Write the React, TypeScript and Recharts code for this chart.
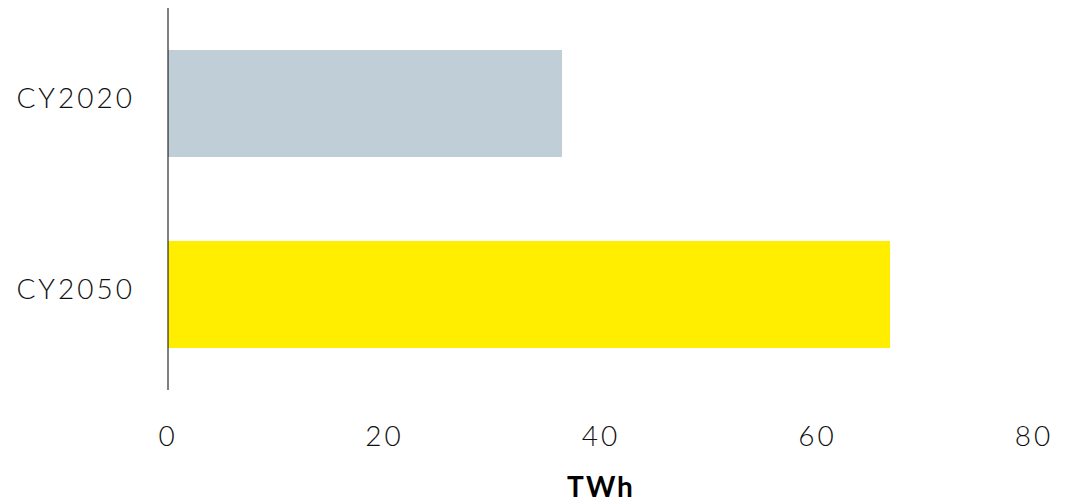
import React from "react"
import { BarChart, Bar, XAxis, YAxis, Cell, Label } from "recharts"

const categories = ["CY2020", "CY2050"]
const values = [36.4, 66.7]
const barColors = ["#C0CED8", "#FFEE00"]
const xTicks = [0, 20, 40, 60, 80]

const data = categories.map((name, i) => ({ name, value: values[i] }))

const font = "Lato, 'Open Sans', sans-serif"

const App: React.FC = () => {
  return (
    <div style={{ position: "absolute", left: 0, top: 0, width: 1071, height: 502, background: "#fff" }}>
      <BarChart
        width={1071}
        height={502}
        data={data}
        layout="vertical"
        margin={{ top: 8, right: 37, left: 0, bottom: 0 }}
        barCategoryGap="22%"
      >
        <YAxis
          type="category"
          dataKey="name"
          width={168}
          tickLine={false}
          axisLine={{ stroke: "#000", strokeWidth: 1 }}
          tickMargin={27}
          tick={{ fill: "#111", fontSize: 28, fontFamily: font, fontWeight: 300, letterSpacing: 3, dy: -5 }}
        />
        <XAxis
          type="number"
          domain={[0, 80]}
          ticks={xTicks}
          height={112}
          axisLine={false}
          tickLine={false}
          tickMargin={30}
          tick={{ fill: "#111", fontSize: 28, fontFamily: font, fontWeight: 300, letterSpacing: 3 }}
        >
          <Label
            value="TWh"
            position="insideBottom"
            offset={5}
            style={{ fill: "#000", fontSize: 28, fontFamily: font, fontWeight: 700, letterSpacing: 2 }}
          />
        </XAxis>
        <Bar dataKey="value" isAnimationActive={false}>
          {data.map((d, i) => (
            <Cell key={d.name} fill={barColors[i]} />
          ))}
        </Bar>
      </BarChart>
    </div>
  )
}

export default App
